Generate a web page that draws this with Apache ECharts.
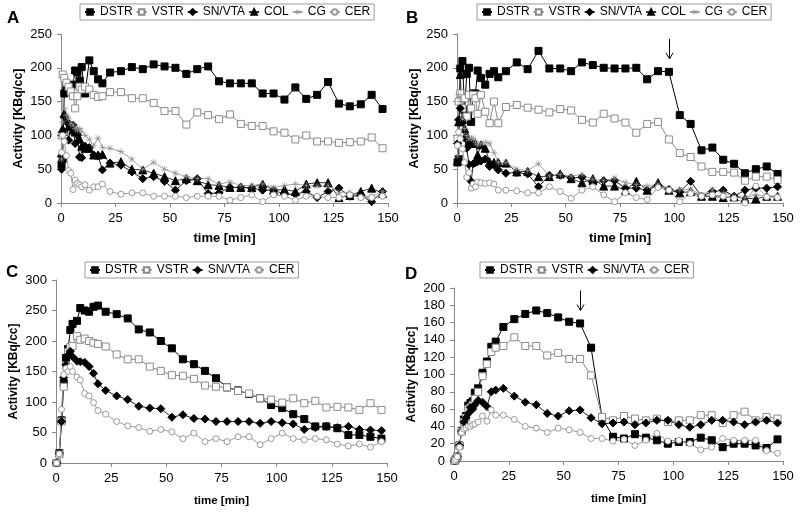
<!DOCTYPE html>
<html>
<head>
<meta charset="utf-8">
<script src="https://cdn.jsdelivr.net/npm/echarts@6/dist/echarts.min.js"></script>
<style>html,body{margin:0;padding:0;background:#fff}#main{width:800px;height:514px}</style>
</head>
<body>
<div id="main"></div>
<script>
// frame mid-times [min]
var timeABD = [0.25,0.75,1.5,2.5,3.5,4.5,5.5,6.5,7.5,8.5,9.5,11,13,15,17,19,
  22.5,27.5,32.5,37.5,42.5,47.5,52.5,57.5,62.5,67.5,72.5,77.5,82.5,87.5,92.5,97.5,
  102.5,107.5,112.5,117.5,122.5,127.5,132.5,137.5,142.5,147.5];
var timeC = [0.25,1.5,2.5,3.5,4.5,5.5,6.5,7.5,9.5,11,13,15,17,19,
  22.5,27.5,32.5,37.5,42.5,47.5,52.5,57.5,62.5,67.5,72.5,77.5,82.5,87.5,92.5,97.5,
  102.5,107.5,112.5,117.5,122.5,127.5,132.5,137.5,142.5,147.5];

var regionsAB = ['DSTR','VSTR','SN/VTA','COL','CG','CER'];
var regionsCD = ['DSTR','VSTR','SN/VTA','CER'];

// panel A
var aDSTR = [57,65,162,171,173,172,175,196,193,181,201,162,211,195,183,177,
  193,195,201,198,205,202,200,191,198,202,180,177,177,177,162,162,153,171,154,160,179,147,143,146,160,139];
var aVSTR = [100,190,185,178,172,165,158,140,158,172,168,172,168,160,157,158,
  164,164,155,155,148,136,136,116,134,130,124,131,117,114,114,106,104,94,100,91,91,89,90,91,97,81];
var aSN = [50,100,128,120,93,113,115,88,100,68,67,84,82,71,70,49,
  59,56,46,36,39,32,19,33,36,14,15,23,23,22,19,19,13,13,17,8,17,22,10,11,2,17];
var aCOL = [74,110,132,125,113,115,108,105,106,95,84,81,81,71,71,72,
  59,61,50,49,44,39,33,36,33,27,26,23,23,23,28,19,20,17,28,30,30,8,11,17,22,14];
var aCG = [65,120,140,130,125,118,115,110,108,110,106,100,94,85,96,82,
  81,76,65,50,60,50,44,39,36,36,28,31,26,26,28,23,26,28,26,25,26,16,16,9,10,17];
var aCER = [75,100,91,70,48,44,20,34,29,27,24,27,19,24,24,28,
  17,13,15,15,10,10,10,8,10,10,10,4,8,12,2,12,10,4,10,10,8,8,12,8,8,10];

// panel B
var bDSTR = [60,65,199,210,138,191,200,120,162,162,196,185,175,191,195,186,
  195,208,198,225,199,199,195,208,204,200,199,199,200,183,195,194,130,117,78,82,64,58,44,50,54,43];
var bVSTR = [95,150,162,140,155,128,160,140,160,155,132,160,135,118,150,118,
  142,145,141,138,134,139,137,123,119,132,125,119,104,117,120,94,74,68,54,46,46,45,33,39,39,34];
var bSN = [88,123,140,120,96,81,57,32,58,60,61,62,65,54,56,49,
  44,45,43,24,41,41,37,38,28,33,33,22,22,19,26,20,17,32,10,17,19,10,19,22,22,24];
var bCOL = [62,120,190,123,110,100,91,88,88,88,71,86,81,61,60,60,
  59,46,47,39,39,43,36,30,36,25,25,19,32,19,30,19,15,17,10,10,8,9,7,6,10,10];
var bCG = [70,160,150,125,110,100,95,96,95,90,86,88,90,88,75,60,
  60,50,48,58,40,42,40,42,35,33,37,30,27,25,28,18,20,20,12,20,15,10,8,12,10,10];
var bCER = [85,105,95,80,60,38,45,22,28,24,31,30,29,30,28,19,
  19,18,15,15,24,17,7,19,24,12,2,15,8,5,23,19,2,14,10,12,10,7,0,25,9,8];

// panel C
var cDSTR = [0,16,70,131,172,187,218,228,233,254,250,248,256,258,
  248,244,237,219,214,200,188,170,162,151,139,124,119,113,106,95,90,80,72,60,60,57,46,46,43,40];
var cVSTR = [0,14,68,125,160,182,190,192,208,202,204,200,197,195,
  191,178,170,170,158,151,144,143,138,127,125,124,118,114,106,104,99,106,98,102,91,92,91,87,98,87];
var cSN = [0,16,68,140,161,177,183,174,167,166,165,158,147,130,
  119,110,104,93,90,89,75,79,73,72,68,68,68,68,65,68,66,64,55,58,60,58,60,55,54,53];
var cCER = [0,15,88,145,155,150,158,150,141,136,114,110,99,86,
  80,68,61,58,52,55,51,40,49,35,40,35,43,43,30,40,49,40,38,40,38,31,28,31,26,35];

// panel D
var dDSTR = [0,2,5,18,35,48,52,64,67,69,79,84,102,115,132,138,
  155,164,170,174,171,166,161,159,131,50,28,26,31,27,24,20,22,22,27,24,16,20,20,18,15,25];
var dVSTR = [0,2,5,18,34,45,50,60,62,65,72,80,98,112,126,131,
  133,143,133,133,122,125,118,118,99,51,47,52,49,47,49,45,47,47,53,53,44,53,57,47,51,49];
var dSN = [0,2,5,18,34,45,50,55,62,60,65,70,68,63,80,82,
  84,75,68,65,55,52,58,59,50,43,44,45,42,44,47,47,42,39,42,47,47,45,42,45,47,44];
var dCER = [0,2,5,16,33,37,38,40,40,42,43,45,52,46,59,53,
  53,48,40,38,33,38,36,33,26,26,23,25,18,24,32,23,24,20,13,16,26,24,24,24,12,9];

// arrows mark the time of the intervention on DSTR
var arrowB = 97.5;
var arrowD = 57.5;

var FONT = 'Liberation Sans, Arial, sans-serif';
var star = 'path://M4.6,0h0.8v10h-0.8z M0,4.6h10v0.8h-10z M1.2,1.7l0.5,-0.5l7.1,7.1l-0.5,0.5z M8.3,1.2l0.5,0.5l-7.1,7.1l-0.5,-0.5z';

var look = {
  'DSTR':   {symbol:'rect', size:7, fill:'#000', border:'#000', bw:1, line:'#000'},
  'VSTR':   {symbol:'rect', size:7, fill:'#fff', border:'#8a8a8a', bw:1, line:'#8a8a8a'},
  'SN/VTA': {symbol:'diamond', size:8, fill:'#000', border:'#000', bw:1, line:'#222'},
  'COL':    {symbol:'triangle', size:8, fill:'#000', border:'#000', bw:1, line:'#333'},
  'CG':     {symbol:star, size:7, fill:'#8f8f8f', border:'#8f8f8f', bw:0, line:'#a5a5a5'},
  'CER':    {symbol:'circle', size:6, fill:'#fff', border:'#9a9a9a', bw:1, line:'#9a9a9a'}
};

function pairs(t, v){
  var out = [];
  for (var i = 0; i < t.length; i++) out.push([t[i], v[i]]);
  return out;
}

function mk(name, idx, t, v){
  var s = look[name];
  return {
    name: name, type: 'line', xAxisIndex: idx, yAxisIndex: idx,
    data: pairs(t, v),
    symbol: s.symbol, symbolSize: s.size,
    itemStyle: {color: s.fill, borderColor: s.border, borderWidth: s.bw},
    lineStyle: {color: s.line, width: 1},
    emphasis: {disabled: true}
  };
}

var grids = [
  {left:61, top:34, width:327, height:169},
  {left:457, top:34, width:326, height:169},
  {left:56, top:280, width:331, height:183},
  {left:454, top:288, width:329, height:173}
];
var yMax = [250, 250, 300, 200];
var yStep = [50, 50, 50, 20];

var xAxes = [], yAxes = [];
for (var g = 0; g < 4; g++) {
  var small = g >= 2;
  xAxes.push({
    type:'value', gridIndex:g, min:0, max:150, interval:25,
    axisLine:{show:true, lineStyle:{color:'#888'}},
    axisTick:{show:true, length:4, lineStyle:{color:'#888'}},
    axisLabel:{color:'#000', fontSize:13, fontFamily:FONT, margin:9},
    splitLine:{show:false},
    name:'time [min]', nameLocation:'middle', nameGap: small ? 32 : 29,
    nameTextStyle:{color:'#000', fontWeight:'bold', fontSize: small ? 11.5 : 13, fontFamily:FONT}
  });
  yAxes.push({
    type:'value', gridIndex:g, min:0, max:yMax[g], interval:yStep[g],
    axisLine:{show:true, lineStyle:{color:'#888'}},
    axisTick:{show:true, length:4, lineStyle:{color:'#888'}},
    axisLabel:{color:'#000', fontSize:13, fontFamily:FONT, margin:9},
    splitLine:{show:false},
    name:'Activity [KBq/cc]', nameLocation:'middle', nameGap: 36,
    nameTextStyle:{color:'#000', fontWeight:'bold', fontSize: small ? 12 : 12.5, fontFamily:FONT}
  });
}

function legend(names, left, top){
  return {
    data: names, left: left, top: top, orient: 'horizontal',
    itemWidth: 10, itemHeight: 7, itemGap: 3,
    padding: [2, 4], borderColor: '#999', borderWidth: 1,
    selectedMode: false,
    textStyle: {color:'#000', fontSize:12, fontFamily:FONT}
  };
}

var series = [
  mk('DSTR',0,timeABD,aDSTR), mk('VSTR',0,timeABD,aVSTR), mk('SN/VTA',0,timeABD,aSN),
  mk('COL',0,timeABD,aCOL), mk('CG',0,timeABD,aCG), mk('CER',0,timeABD,aCER),
  mk('DSTR',1,timeABD,bDSTR), mk('VSTR',1,timeABD,bVSTR), mk('SN/VTA',1,timeABD,bSN),
  mk('COL',1,timeABD,bCOL), mk('CG',1,timeABD,bCG), mk('CER',1,timeABD,bCER),
  mk('DSTR',2,timeC,cDSTR), mk('VSTR',2,timeC,cVSTR), mk('SN/VTA',2,timeC,cSN), mk('CER',2,timeC,cCER),
  mk('DSTR',3,timeABD,dDSTR), mk('VSTR',3,timeABD,dVSTR), mk('SN/VTA',3,timeABD,dSN), mk('CER',3,timeABD,dCER)
];

var letters = [['A',7,10],['B',406,10],['C',6,264],['D',405,266]];
var graphics = letters.map(function(l){
  return {type:'text', left:l[1], top:l[2],
    style:{text:l[0], font:'bold 17px ' + FONT, fill:'#000'}};
});

var myChart = echarts.init(document.getElementById('main'));
var option = {
  animation: false,
  backgroundColor: '#fff',
  grid: grids,
  xAxis: xAxes,
  yAxis: yAxes,
  legend: [legend(regionsAB,80,4), legend(regionsAB,477,4), legend(regionsCD,85,262), legend(regionsCD,480,262)],
  series: series,
  graphic: graphics
};
myChart.setOption(option);

// arrows above the DSTR point where the intervention happened
function arrowAt(idx, t, vals){
  var v = vals[timeABD.indexOf(t)];
  var p = myChart.convertToPixel({xAxisIndex:idx, yAxisIndex:idx}, [t, v]);
  var x = Math.round(p[0]) + 0.5, y1 = p[1] - 33, y2 = p[1] - 13;
  return [
    {type:'line', shape:{x1:x, y1:y1, x2:x, y2:y2}, style:{stroke:'#000', lineWidth:1}},
    {type:'polyline', shape:{points:[[x-3.5, y2-6],[x, y2],[x+3.5, y2-6]]}, style:{stroke:'#000', lineWidth:1, fill:null}}
  ];
}
myChart.setOption({graphic: graphics.concat(arrowAt(1, arrowB, bDSTR), arrowAt(3, arrowD, dDSTR))});
</script>
</body>
</html>
